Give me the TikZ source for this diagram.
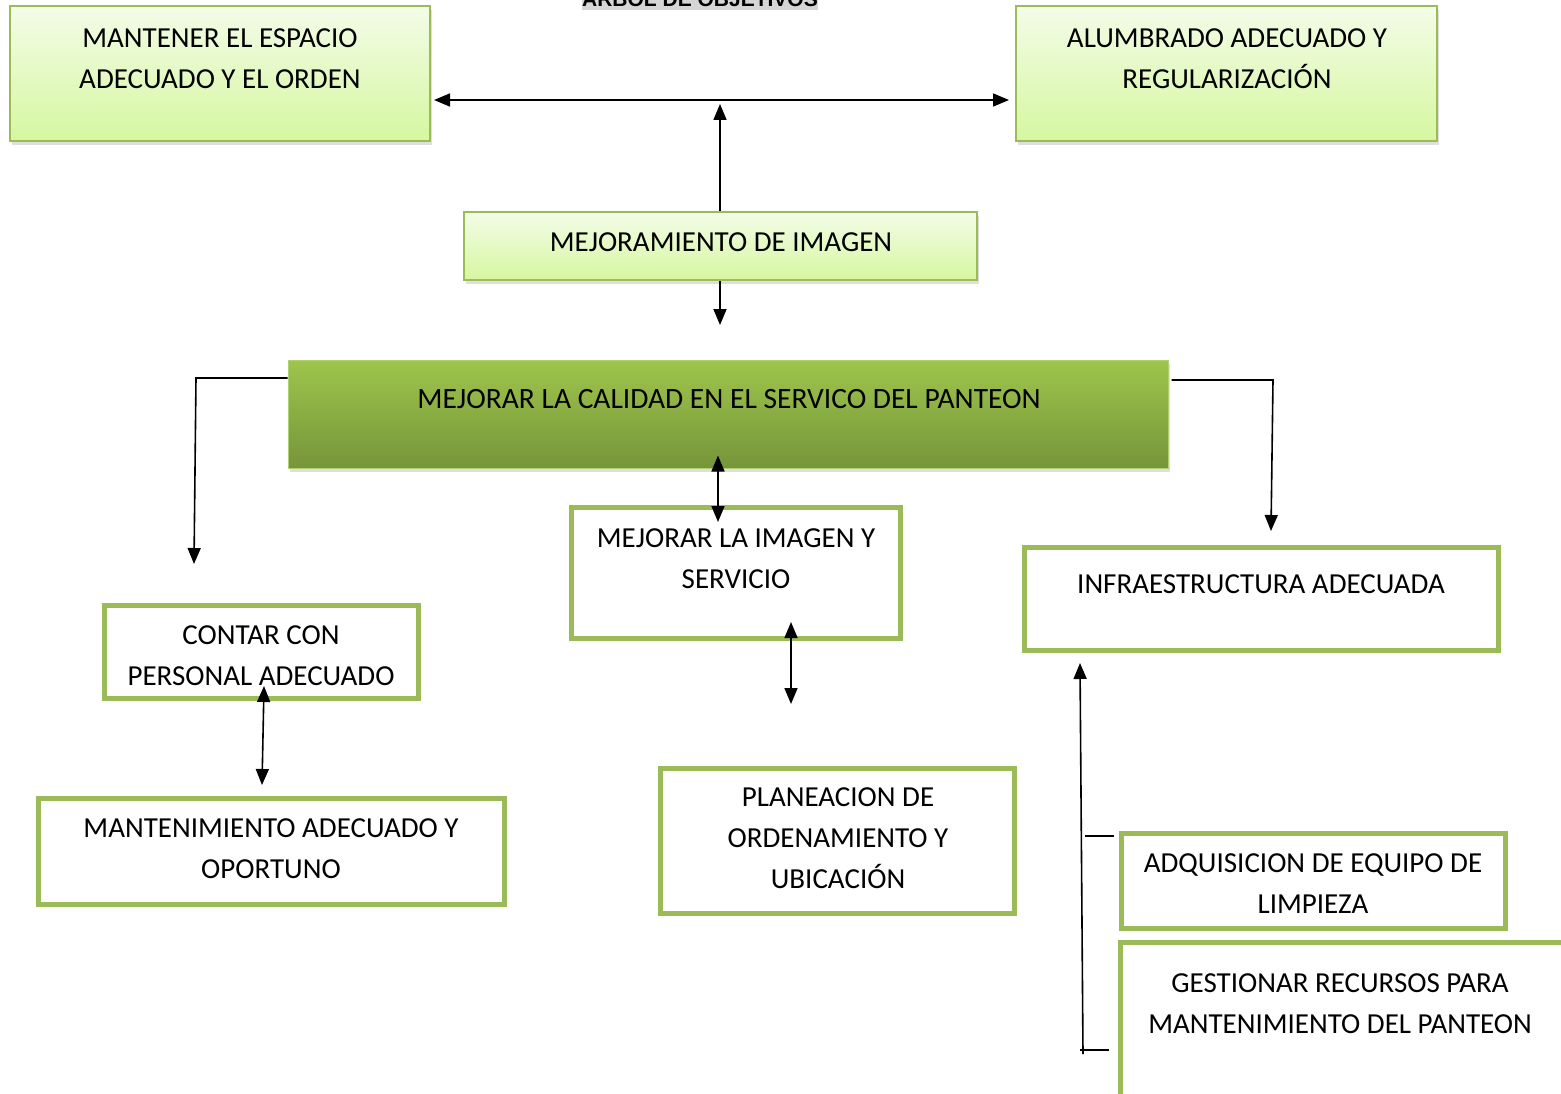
\documentclass[tikz,border=0pt]{standalone}
\usepackage{fontspec}
\setmainfont{Carlito}
\newfontfamily\titlefont{Liberation Sans}
\usepackage{xcolor}
\usepackage{tikz}
\usetikzlibrary{positioning,arrows.meta,shadows}

\definecolor{verde}{HTML}{9BBB59}
\definecolor{claroarriba}{HTML}{F3FCE8}
\definecolor{claroabajo}{HTML}{D6F7A0}
\definecolor{oscuroarriba}{HTML}{9EC54C}
\definecolor{oscuroabajo}{HTML}{76953A}
\definecolor{grisfondo}{HTML}{D6D6D6}

\tikzset{
  caja/.style={draw=verde,line width=2pt,rectangle,inner sep=0pt,
    top color=claroarriba,bottom color=claroabajo,
    drop shadow={opacity=0.25,shadow xshift=2pt,shadow yshift=-4pt}},
  cajaoscura/.style={draw=oscuroarriba!80!white,line width=1pt,rectangle,inner sep=0pt,
    top color=oscuroarriba,bottom color=oscuroabajo,
    drop shadow={opacity=0.25,shadow xshift=2pt,shadow yshift=-4pt}},
  marco/.style={draw=verde,line width=5pt,fill=white,rectangle,inner sep=0pt},
  texto/.style={align=center,inner sep=0pt,font=\fontsize{29}{41}\selectfont},
  flecha/.style={-{Triangle[length=16pt,width=13pt]},line width=1.6pt},
  doble/.style={{Triangle[length=16pt,width=13pt]}-{Triangle[length=16pt,width=13pt]},line width=1.6pt}
}

\begin{document}
\begin{tikzpicture}[x=1pt,y=-1pt]
    \useasboundingbox (0,0) rectangle (1561,1094);

    \node[fill=grisfondo,inner sep=0pt,text height=17pt,text depth=3pt,anchor=base,
      font=\titlefont\bfseries\fontsize{21}{24}\selectfont] (titulo) at (700,7) {ARBOL DE OBJETIVOS};

    \node[caja,minimum width=420,minimum height=135] (espacio) at (220,73.5) {};
    \node[texto] (espaciot) at (220,58.5) {MANTENER EL ESPACIO\\ADECUADO Y EL ORDEN};

    \node[caja,minimum width=421,minimum height=135] (alumbrado) at (1226.5,73.5) {};
    \node[texto] (alumbradot) at (1227,58.5) {ALUMBRADO ADECUADO Y\\REGULARIZACIÓN};

    \node[caja,minimum width=513,minimum height=68] (imagen) at (720.5,246) {};
    \node[texto] (imagent) at (721,242) {MEJORAMIENTO DE IMAGEN};

    \node[cajaoscura,minimum width=880,minimum height=108] (calidad) at (728,414) {};
    \node[texto,font=\fontsize{29.5}{41}\selectfont] (calidadt) at (729,399) {MEJORAR LA CALIDAD EN EL SERVICO DEL PANTEON};

    \node[marco,minimum width=329,minimum height=131] (servicio) at (736,573) {};
    \node[texto] (serviciot) at (736,558.5) {MEJORAR LA IMAGEN Y\\SERVICIO};

    \node[marco,minimum width=474,minimum height=103] (infra) at (1261.5,599) {};
    \node[texto] (infrat) at (1261,584) {INFRAESTRUCTURA ADECUADA};

    \node[marco,minimum width=314,minimum height=93] (contar) at (261.5,652) {};
    \node[texto] (contart) at (261,655.5) {CONTAR CON\\PERSONAL ADECUADO};

    \node[marco,minimum width=466,minimum height=106] (mant) at (271.5,851.5) {};
    \node[texto] (mantt) at (271,848.5) {MANTENIMIENTO ADECUADO Y\\OPORTUNO};

    \node[marco,minimum width=354,minimum height=145] (plan) at (837.5,841) {};
    \node[texto] (plant) at (838,838.5) {PLANEACION DE\\ORDENAMIENTO Y\\UBICACIÓN};

    \node[marco,minimum width=384,minimum height=95] (adq) at (1313.5,881) {};
    \node[texto] (adqt) at (1313,883.5) {ADQUISICION DE EQUIPO DE\\LIMPIEZA};

    \node[marco,minimum width=480,minimum height=187] (gest) at (1360.5,1036) {};
    \node[texto] (gestt) at (1340,1003.5) {GESTIONAR RECURSOS PARA\\MANTENIMIENTO DEL PANTEON};

    \coordinate (centro) at (720,100);
    \coordinate (bajaimagen) at (720,325);
    \coordinate (esqizq) at (196,378);
    \coordinate (finizq) at (194,564);
    \coordinate (esqder) at (1273,380);
    \coordinate (finder) at (1271,531);
    \coordinate (bajaservicio) at (791,704);
    \coordinate (pieder) at (1083,1054);

    \draw[doble] ([xshift=3pt]espacio.east |- centro)--([xshift=-6pt]alumbrado.west |- centro);
    \draw[flecha,shorten >=4pt] (imagen.north -| centro)--(centro);
    \draw[flecha] (imagen.south -| centro)--(bajaimagen);

    \draw[flecha] (calidad.west |- esqizq)--(esqizq)--(finizq);
    \draw[flecha] ([xshift=3pt]calidad.east |- esqder)--(esqder)--(finder);

    \draw[doble] ([shift={(-10,-13)}]calidad.south)--([shift={(-18,17)}]servicio.north);
    \draw[doble] ([shift={(55,-19)}]servicio.south)--(bajaservicio);
    \draw[doble] ([shift={(2.5,-15)}]contar.south)--([shift={(-9.5,-11)}]mant.north);

    \draw[flecha] (pieder)--([shift={(-181.5,10)}]infra.south);
    \draw[line width=1.6pt] ([shift={(-5,-45)}]adq.west)--++(-29,0);
    \draw[line width=1.6pt] ([shift={(-9.5,-4)}]gest.west |- pieder)--++(-29,0);

\end{tikzpicture}
\end{document}
